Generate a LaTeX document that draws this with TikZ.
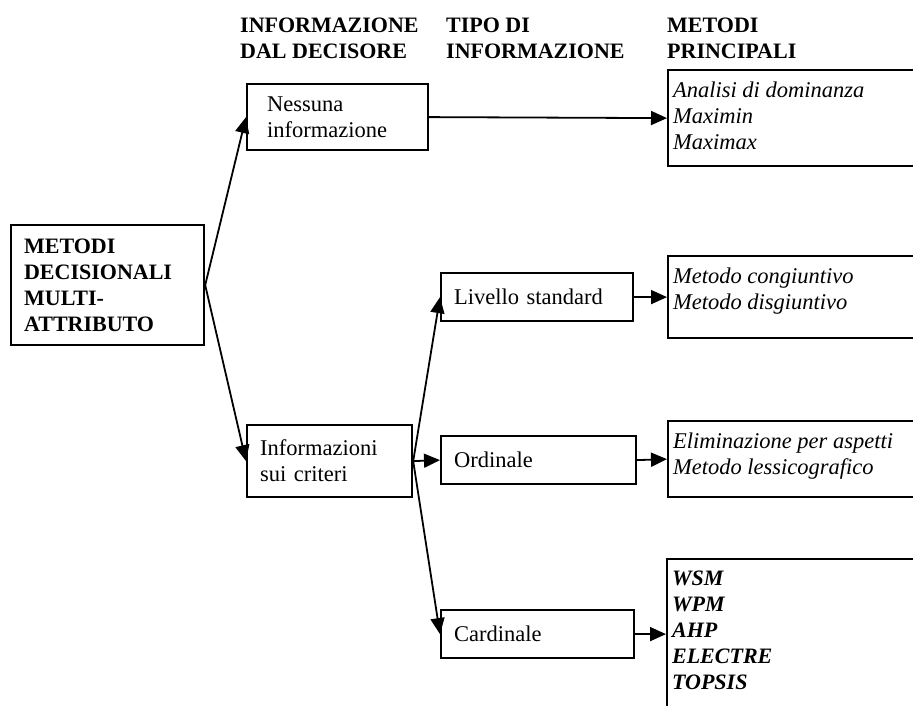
\documentclass[tikz,border=0pt]{standalone}
\usepackage{fontspec}
\setmainfont{Liberation Serif}
\usetikzlibrary{arrows.meta}
\tikzset{
  header/.style={anchor=north west, inner sep=0pt, align=left,
    font=\fontsize{22}{26}\selectfont\bfseries},
  box/.style={rectangle, draw, line width=2.2pt, anchor=north west,
    align=left, inner xsep=13pt, inner ysep=0pt},
  methodbox/.style={rectangle, draw, line width=2.2pt, anchor=north west,
    inner xsep=5pt, inner ysep=12pt, font=\fontsize{22.5}{26}\selectfont\itshape},
  arrow/.style={-{Triangle[length=16pt, width=14pt]}, line width=1.8pt},
}
\newcommand{\metlist}[2]{\parbox[c][#1][t]{300pt}{#2}}

\begin{document}
\begin{tikzpicture}[x=1pt, y=-1pt, font=\fontsize{22.5}{26}\selectfont]
\useasboundingbox (0,0) rectangle (913,705);
\clip (0,0) rectangle (913,705);

% column titles
\node[header] (hdec) at (240,18) {INFORMAZIONE\\DAL DECISORE};
\node[header] (htipo) at (446,18) {TIPO DI\\INFORMAZIONE};
\node[header] (hmet) at (667,18) {METODI\\PRINCIPALI};

\node[box, font=\fontsize{22}{26}\selectfont\bfseries, text width=167pt, minimum height=120pt] (mcda) at (10,224) {METODI\\DECISIONALI\\MULTI-\\ATTRIBUTO};

\node[box, inner xsep=20pt, text width=141pt, minimum height=66pt] (nessuna) at (246,83) {Nessuna\\informazione};
\node[box, text width=139pt, minimum height=72pt] (criteri) at (246,424) {Informazioni\\sui criteri};

\node[box, text width=166pt, minimum height=48pt] (livello) at (440,272) {Livello standard};
\node[box, text width=169pt, minimum height=48pt] (ordinale) at (440,435) {Ordinale};
\node[box, text width=167pt, minimum height=48pt] (cardinale) at (440,609) {Cardinale};

\node[methodbox] (mdom) at (667,69) {\metlist{72pt}{Analisi di dominanza\\Maximin\\Maximax}};
\node[methodbox] (mcong) at (667,255) {\metlist{58pt}{Metodo congiuntivo\\Metodo disgiuntivo}};
\node[methodbox] (mlex) at (667,420) {\metlist{52pt}{Eliminazione per aspetti\\Metodo lessicografico}};
\node[methodbox, font=\fontsize{22}{26}\selectfont\bfseries\itshape] (mcard) at (666,558) {\metlist{126pt}{WSM\\WPM\\AHP\\ELECTRE\\TOPSIS}};

\draw[arrow] (mcda.east) -- (nessuna.west);
\draw[arrow] (mcda.east) -- (criteri.west);
\draw[arrow] (criteri.east) -- (livello.west);
\draw[arrow] (criteri.east) -- (ordinale.west);
\draw[arrow] (criteri.east) -- (cardinale.west);

\draw[arrow] (nessuna.east) -- (mdom.west);
\draw[arrow] (livello.east) -- (mcong.west);
\draw[arrow] (ordinale.east) -- (mlex.west);
\draw[arrow] (cardinale.east) -- (mcard.west);

\end{tikzpicture}
\end{document}
